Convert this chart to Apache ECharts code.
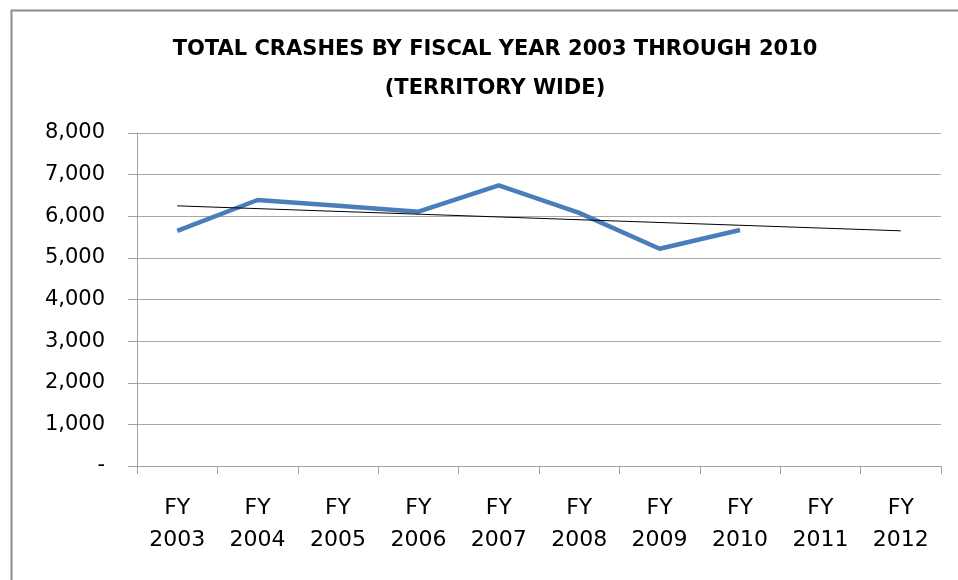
<!DOCTYPE html>
<html>
<head>
<meta charset="utf-8">
<script src="https://cdn.jsdelivr.net/npm/echarts@6/dist/echarts.min.js"></script>
<style>
html,body{margin:0;padding:0;background:#fff;}
#chart{width:958px;height:580px;}
</style>
</head>
<body>
<div id="chart"></div>
<script>
const categories = ['FY\n2003','FY\n2004','FY\n2005','FY\n2006','FY\n2007','FY\n2008','FY\n2009','FY\n2010','FY\n2011','FY\n2012'];
const crashes = [5650, 6390, 6250, 6110, 6740, 6080, 5220, 5670, null, null];
// trend line: start (FY 2003) and end (FY 2012)
const trend = [6250, null, null, null, null, null, null, null, null, 5650];
const yTicks = [0, 1000, 2000, 3000, 4000, 5000, 6000, 7000, 8000];

const chart = echarts.init(document.getElementById('chart'));
chart.setOption({
  animation: false,
  backgroundColor: '#fff',
  graphic: [{
    type: 'rect', left: 9, top: 8, shape: {width: 1200, height: 1200},
    style: {fill: 'none', stroke: '#8c8c8c', lineWidth: 2}, silent: true, z: -1
  }],
  title: {
    text: 'TOTAL CRASHES BY FISCAL YEAR 2003 THROUGH 2010\n(TERRITORY WIDE)',
    left: 490, top: 25, textAlign: 'center',
    textStyle: {fontFamily: 'DejaVu Sans, sans-serif', fontWeight: 'bold', fontSize: 21, lineHeight: 39, color: '#000'}
  },
  grid: {left: 137, right: 17, top: 133, bottom: 114, containLabel: false},
  xAxis: {
    type: 'category', data: categories, boundaryGap: true,
    axisLine: {lineStyle: {color: '#a0a0a0', width: 1}},
    axisTick: {show: true, length: 8, alignWithLabel: false, lineStyle: {color: '#a0a0a0'}},
    axisLabel: {interval: 0, margin: 26, color: '#000', fontFamily: 'DejaVu Sans, sans-serif', fontSize: 22, lineHeight: 32}
  },
  yAxis: {
    type: 'value', min: yTicks[0], max: yTicks[yTicks.length-1], interval: 1000,
    axisLine: {show: true, lineStyle: {color: '#a0a0a0', width: 1}},
    axisTick: {show: true, inside: false, length: 9, lineStyle: {color: '#a0a0a0'}},
    splitLine: {show: true, lineStyle: {color: '#a6a6a6', width: 1}},
    axisLabel: {
      margin: 32, color: '#000', fontFamily: 'DejaVu Sans, sans-serif', fontSize: 21,
      formatter: v => v === 0 ? '-' : v.toLocaleString('en-US')
    }
  },
  series: [
    {
      type: 'line', data: crashes, symbol: 'none', connectNulls: false,
      lineStyle: {color: '#4a7ebb', width: 4.5}, z: 3
    },
    {
      type: 'line', data: trend, symbol: 'none', connectNulls: true,
      lineStyle: {color: '#000', width: 1}, z: 4
    }
  ]
});
</script>
</body>
</html>
